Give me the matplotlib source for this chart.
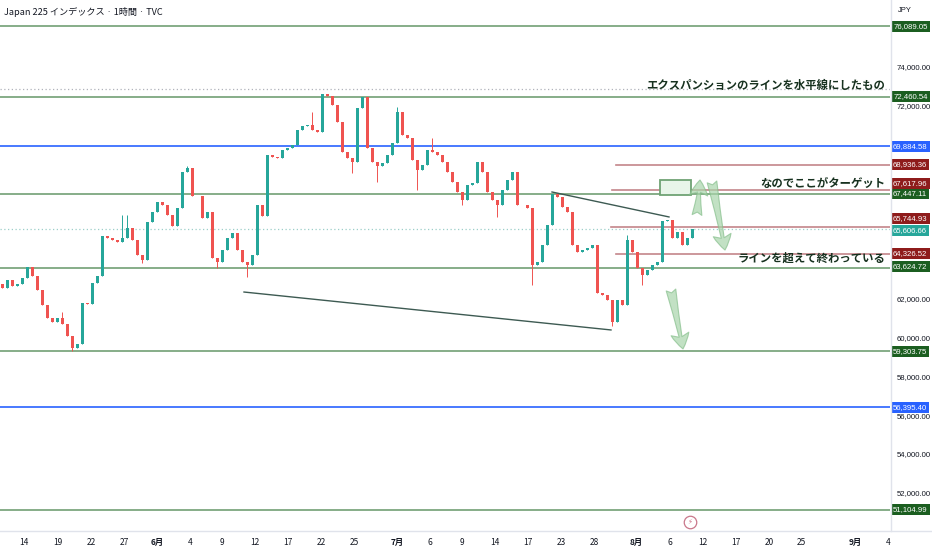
import matplotlib
matplotlib.use('Agg')
import matplotlib.pyplot as plt
from matplotlib.patches import Rectangle
from matplotlib.lines import Line2D
from matplotlib.transforms import offset_copy

plt.rcParams['font.family'] = ['Noto Sans CJK JP', 'DejaVu Sans']

# ---- data (hourly candles, sampled) ----
first_open = 62780
closes = [
    62570, 62980, 62670, 62780, 63090, 63650, 63190, 62470, 61690, 61020,
    60810, 61020, 60710, 60090, 59470, 59670, 61790, 61740, 62830, 63190,
    65260, 65150, 65050, 64950, 65150, 65670, 65050, 64270, 64020, 65980,
    66500, 67010, 66860, 66340, 65770, 66700, 68560, 68770, 67320, 67320,
    66190, 66500, 64120, 63910, 64530, 65150, 65410, 64530, 63910, 63760,
    64270, 66860, 66290, 69440, 69340, 69290, 69700, 69800, 69960, 70730,
    70940, 70990, 70730, 70630, 72590, 72490, 72030, 71150, 69600, 69290,
    69080, 71870, 72440, 69800, 69080, 68870, 69030, 69440, 70060, 71660,
    70480, 70320, 69180, 68670, 68930, 69700, 69600, 69440, 69080, 68560,
    68050, 67530, 67120, 67890, 68000, 69080, 68560, 67530, 67120, 66860,
    67630, 68150, 68560, 66860, 66860, 66700, 63760, 63910, 64790, 65820,
    67430, 67270, 66760, 66500, 64790, 64430, 64530, 64640, 64790, 62310,
    62210, 61950, 60810, 61950, 61690, 65050, 64430, 63600, 63240, 63500,
    63760, 63910, 66030, 66080, 65150, 65460, 64790, 65150, 65610,
]
wick_high = {12: 61330, 24: 66340, 25: 66340, 37: 68870, 62: 71660,
             79: 71920, 86: 70320, 125: 65310}
wick_low = {14: 59300, 28: 63860, 43: 63600, 49: 63140, 70: 68510, 75: 68050,
            83: 67630, 92: 66860, 99: 66240, 106: 62720, 122: 60600, 128: 62720}

date_pos = [4.4, 11.2, 17.8, 24.4, 31, 37.6, 44, 50.6, 57.2, 63.8, 70.4, 79,
            85.6, 92, 98.6, 105.2, 111.8, 118.4, 126.8, 133.6, 140.2, 146.8,
            153.4, 159.8, 170.6, 177.2]
date_labels = ['14', '19', '22', '27', '6月', '4', '9', '12', '17', '22', '25',
               '7月', '6', '9', '14', '17', '23', '28', '8月', '6', '12', '17',
               '20', '25', '9月', '4']

green_levels = [76089.05, 72460.54, 67447.11, 63624.72, 59303.75, 51104.99]
blue_levels = [69884.58, 56395.40]
red_levels = [68936.36, 67617.96, 65744.93, 64326.52]
red_starts = [122.8, 122.0, 121.8, 122.8]
last_price = 65606.66
high_mark = 72850
price_ticks = [74000, 72000, 62000, 60000, 58000, 56000, 54000, 52000]

upper_line = ([110, 133.4], [67530, 66240])
lower_line = ([48.4, 121.8], [62360, 60400])
target_box = (131.6, 137.8, 67375, 68150)
arrows = [(139.0, 66340, 139.6, 68150),
          (142.0, 68050, 144.6, 64530),
          (133.8, 62465, 136.2, 59420)]
notes = [('エクスパンションのラインを水平線にしたもの', 73060),
         ('なのでここがターゲット', 67995),
         ('ラインを超えて終わっている', 64120)]

# price tags pushed apart on the scale (pixels, up = +)
tag_shift = {67617.96: 7, 65744.93: 8, 65606.66: -1, 63624.72: 1}

UP, DOWN = '#26a69a', '#ef5350'

fig = plt.figure(figsize=(9.32, 5.5), dpi=100)
ax = fig.add_axes([0, 19 / 550, 890 / 932, 531 / 550])
ax.set_xlim(-0.4, 177.6)
ax.set_ylim(50010, 77452)
for s in ax.spines.values():
    s.set_visible(False)

# candles
opens = [first_open] + closes[:-1]
xs = list(range(len(closes)))
highs = [wick_high.get(i, max(o, c)) for i, (o, c) in enumerate(zip(opens, closes))]
lows = [wick_low.get(i, min(o, c)) for i, (o, c) in enumerate(zip(opens, closes))]
cols = [UP if c >= o else DOWN for o, c in zip(opens, closes)]
ax.vlines(xs, lows, highs, colors=cols, lw=0.7, zorder=3)
ax.bar(xs, [c - o if c != o else 20 for o, c in zip(opens, closes)], bottom=opens,
       width=0.6, color=cols, zorder=3)

# horizontal levels
for p in green_levels:
    ax.axhline(p, color='#86ad88', lw=1.4, zorder=2)
for p in blue_levels:
    ax.axhline(p, color='#2962ff', lw=1.2, zorder=2)
for p, x0 in zip(red_levels, red_starts):
    ax.plot([x0, 177.6], [p, p], color='#c4858a', lw=1.2, zorder=2)
ax.axhline(last_price, color='#9ccfc9', lw=0.9, ls=(0, (1, 2)), zorder=1)
ax.axhline(high_mark, color='#b0b3bb', lw=0.9, ls=(0, (1, 2)), zorder=1)

# trend lines
ax.plot(*upper_line, color='#3d5a52', lw=1.0, zorder=4)
ax.plot(*lower_line, color='#3d5a52', lw=1.0, zorder=4)

# target box
x0, x1, y0, y1 = target_box
ax.add_patch(Rectangle((x0, y0), x1 - x0, y1 - y0, fc='#e8f5e9', ec='#6fa374',
                       lw=1.3, zorder=4))

# arrows
for tx, ty, hx, hy in arrows:
    ax.annotate('', xy=(hx, hy), xytext=(tx, ty),
                arrowprops=dict(arrowstyle='fancy,head_length=1.1,head_width=1.3,tail_width=0.7',
                                fc='#a9d5ab', ec='#86bf8c', alpha=0.7, lw=0.8,
                                shrinkA=0, shrinkB=0, mutation_scale=10),
                zorder=5)

# notes
for txt, p in notes:
    ax.text(176.6, p, txt, ha='right', va='center', fontsize=8.2,
            fontweight='bold', color='#17311f', zorder=6)

# x labels
ax.set_xticks(date_pos)
ax.set_xticklabels(date_labels)
ax.tick_params(axis='x', length=0, pad=5, labelsize=6, labelcolor='#131722')
for lbl in ax.get_xticklabels():
    if '月' in lbl.get_text():
        lbl.set_fontweight('bold')

# price scale
ax.yaxis.tick_right()
ax.set_yticks(price_ticks)
ax.set_yticklabels(['{:,.2f}'.format(p) for p in price_ticks])
ax.tick_params(axis='y', length=0, pad=5, labelsize=5.6, labelcolor='#131722')
for lbl in ax.get_yticklabels():
    lbl.set_family('Liberation Sans')


def tag(price, color):
    tr = offset_copy(ax.get_yaxis_transform(), fig=fig, x=0,
                     y=tag_shift.get(price, 0), units='dots')
    ax.text(1.0035, price, '{:,.2f}'.format(price), transform=tr,
            ha='left', va='center', fontsize=5.6, color='white', family='Liberation Sans',
            bbox=dict(boxstyle='square,pad=0.26', fc=color, ec='none'),
            clip_on=False, zorder=10)


for p in green_levels:
    tag(p, '#1b5e20')
for p in blue_levels:
    tag(p, '#2962ff')
for p in red_levels:
    tag(p, '#8e1b1b')
tag(last_price, '#26a69a')

# frame lines and header
fig.add_artist(Line2D([0, 1], [19 / 550, 19 / 550], color='#e0e3eb', lw=1))
fig.add_artist(Line2D([891 / 932, 891 / 932], [19 / 550, 1], color='#e0e3eb', lw=1))
fig.text(4 / 932, 1 - 12 / 550, 'Japan 225 インデックス · 1時間 · TVC', fontsize=6.6,
         color='#131722', va='center', ha='left')
fig.text(905 / 932, 1 - 11 / 550, 'JPY', fontsize=5.5, color='#131722', va='center',
         ha='center', family='Liberation Sans')

# lightning icon
ax.plot([137.6], [0.017], marker='o', ms=9, mfc='white', mec='#c9778a', mew=0.9,
        transform=ax.get_xaxis_transform(), clip_on=False, zorder=6)
ax.text(137.6, 0.017, '⚡', transform=ax.get_xaxis_transform(), ha='center',
        va='center', fontsize=5, color='#c9778a', family='DejaVu Sans', zorder=7)

fig.savefig('out.png', dpi=100, facecolor='white')
